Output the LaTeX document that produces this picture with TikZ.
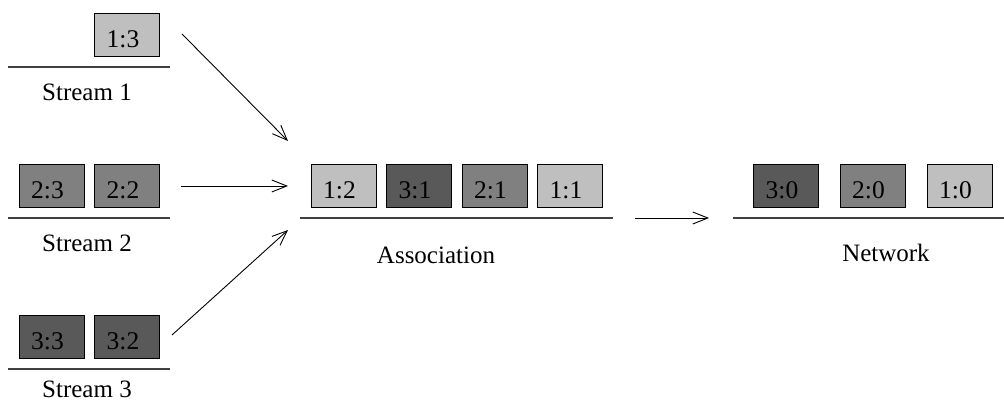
\documentclass[tikz,border=0pt]{standalone}
\usepackage{fontspec}
\setmainfont{Liberation Serif}
\usetikzlibrary{arrows.meta}
\definecolor{pktlight}{gray}{0.75}
\definecolor{pktmid}{gray}{0.50}
\definecolor{pktdark}{gray}{0.35}
\begin{document}
\begin{tikzpicture}[x=1pt,y=-1pt,
  pkt/.style={draw=black,line width=0.9pt,minimum width=65pt,minimum height=43pt,
              inner sep=0pt,text height=26pt,text depth=0pt,
              execute at end node={\hspace{8pt}},
              font=\fontsize{25.5}{30}\selectfont},
  s1/.style={pkt,fill=pktlight},
  s2/.style={pkt,fill=pktmid},
  s3/.style={pkt,fill=pktdark},
  queue/.style={draw=black!75,line width=1.2pt},
  lbl/.style={font=\fontsize{25}{30}\selectfont,inner sep=0pt},
  flow/.style={draw=black,line width=0.9pt,-{Straight Barb[length=15pt,width=12pt,line width=0.9pt]}}]
\useasboundingbox (0,0) rectangle (1004,403);

% stream 1
\node[s1] (p13) at (127,34.5) {1:3};
\coordinate (q1a) at (8,67); \coordinate (q1b) at (170,67);
\draw[queue] (q1a) -- (q1b);
\node[lbl] (l1) at (87,92) {Stream 1};

% stream 2
\node[s2] (p23) at (51.5,185.5) {2:3};
\node[s2] (p22) at (127,185.5) {2:2};
\coordinate (q2a) at (8,218); \coordinate (q2b) at (170,218);
\draw[queue] (q2a) -- (q2b);
\node[lbl] (l2) at (87,243) {Stream 2};

% stream 3
\node[s3] (p33) at (51.5,336.5) {3:3};
\node[s3] (p32) at (127,336.5) {3:2};
\coordinate (q3a) at (8,369); \coordinate (q3b) at (170,369);
\draw[queue] (q3a) -- (q3b);
\node[lbl] (l3) at (87,389) {Stream 3};

% association queue
\node[s1] (p12) at (343.5,185.5) {1:2};
\node[s3] (p31) at (419,185.5) {3:1};
\node[s2] (p21) at (494.5,185.5) {2:1};
\node[s1] (p11) at (570,185.5) {1:1};
\coordinate (qaa) at (300,218); \coordinate (qab) at (613,218);
\draw[queue] (qaa) -- (qab);
\node[lbl] (la) at (436,255) {Association};

% network queue
\node[s3] (p30) at (786,185.5) {3:0};
\node[s2] (p20) at (872.5,185.5) {2:0};
\node[s1] (p10) at (959.5,185.5) {1:0};
\coordinate (qna) at (733,218); \coordinate (qnb) at (1004,218);
\draw[queue] (qna) -- (qnb);
\node[lbl] (ln) at (886,253) {Network};

% flows into the association and on to the network
\coordinate (f1s) at (182,34);  \coordinate (f1e) at (288,141);
\coordinate (f2s) at (181,186); \coordinate (f2e) at (288,186);
\coordinate (f3s) at (172,335); \coordinate (f3e) at (288,230);
\coordinate (f4s) at (635,218); \coordinate (f4e) at (709,218);
\draw[flow] (f1s) -- (f1e);
\draw[flow] (f2s) -- (f2e);
\draw[flow] (f3s) -- (f3e);
\draw[flow] (f4s) -- (f4e);
\end{tikzpicture}
\end{document}
